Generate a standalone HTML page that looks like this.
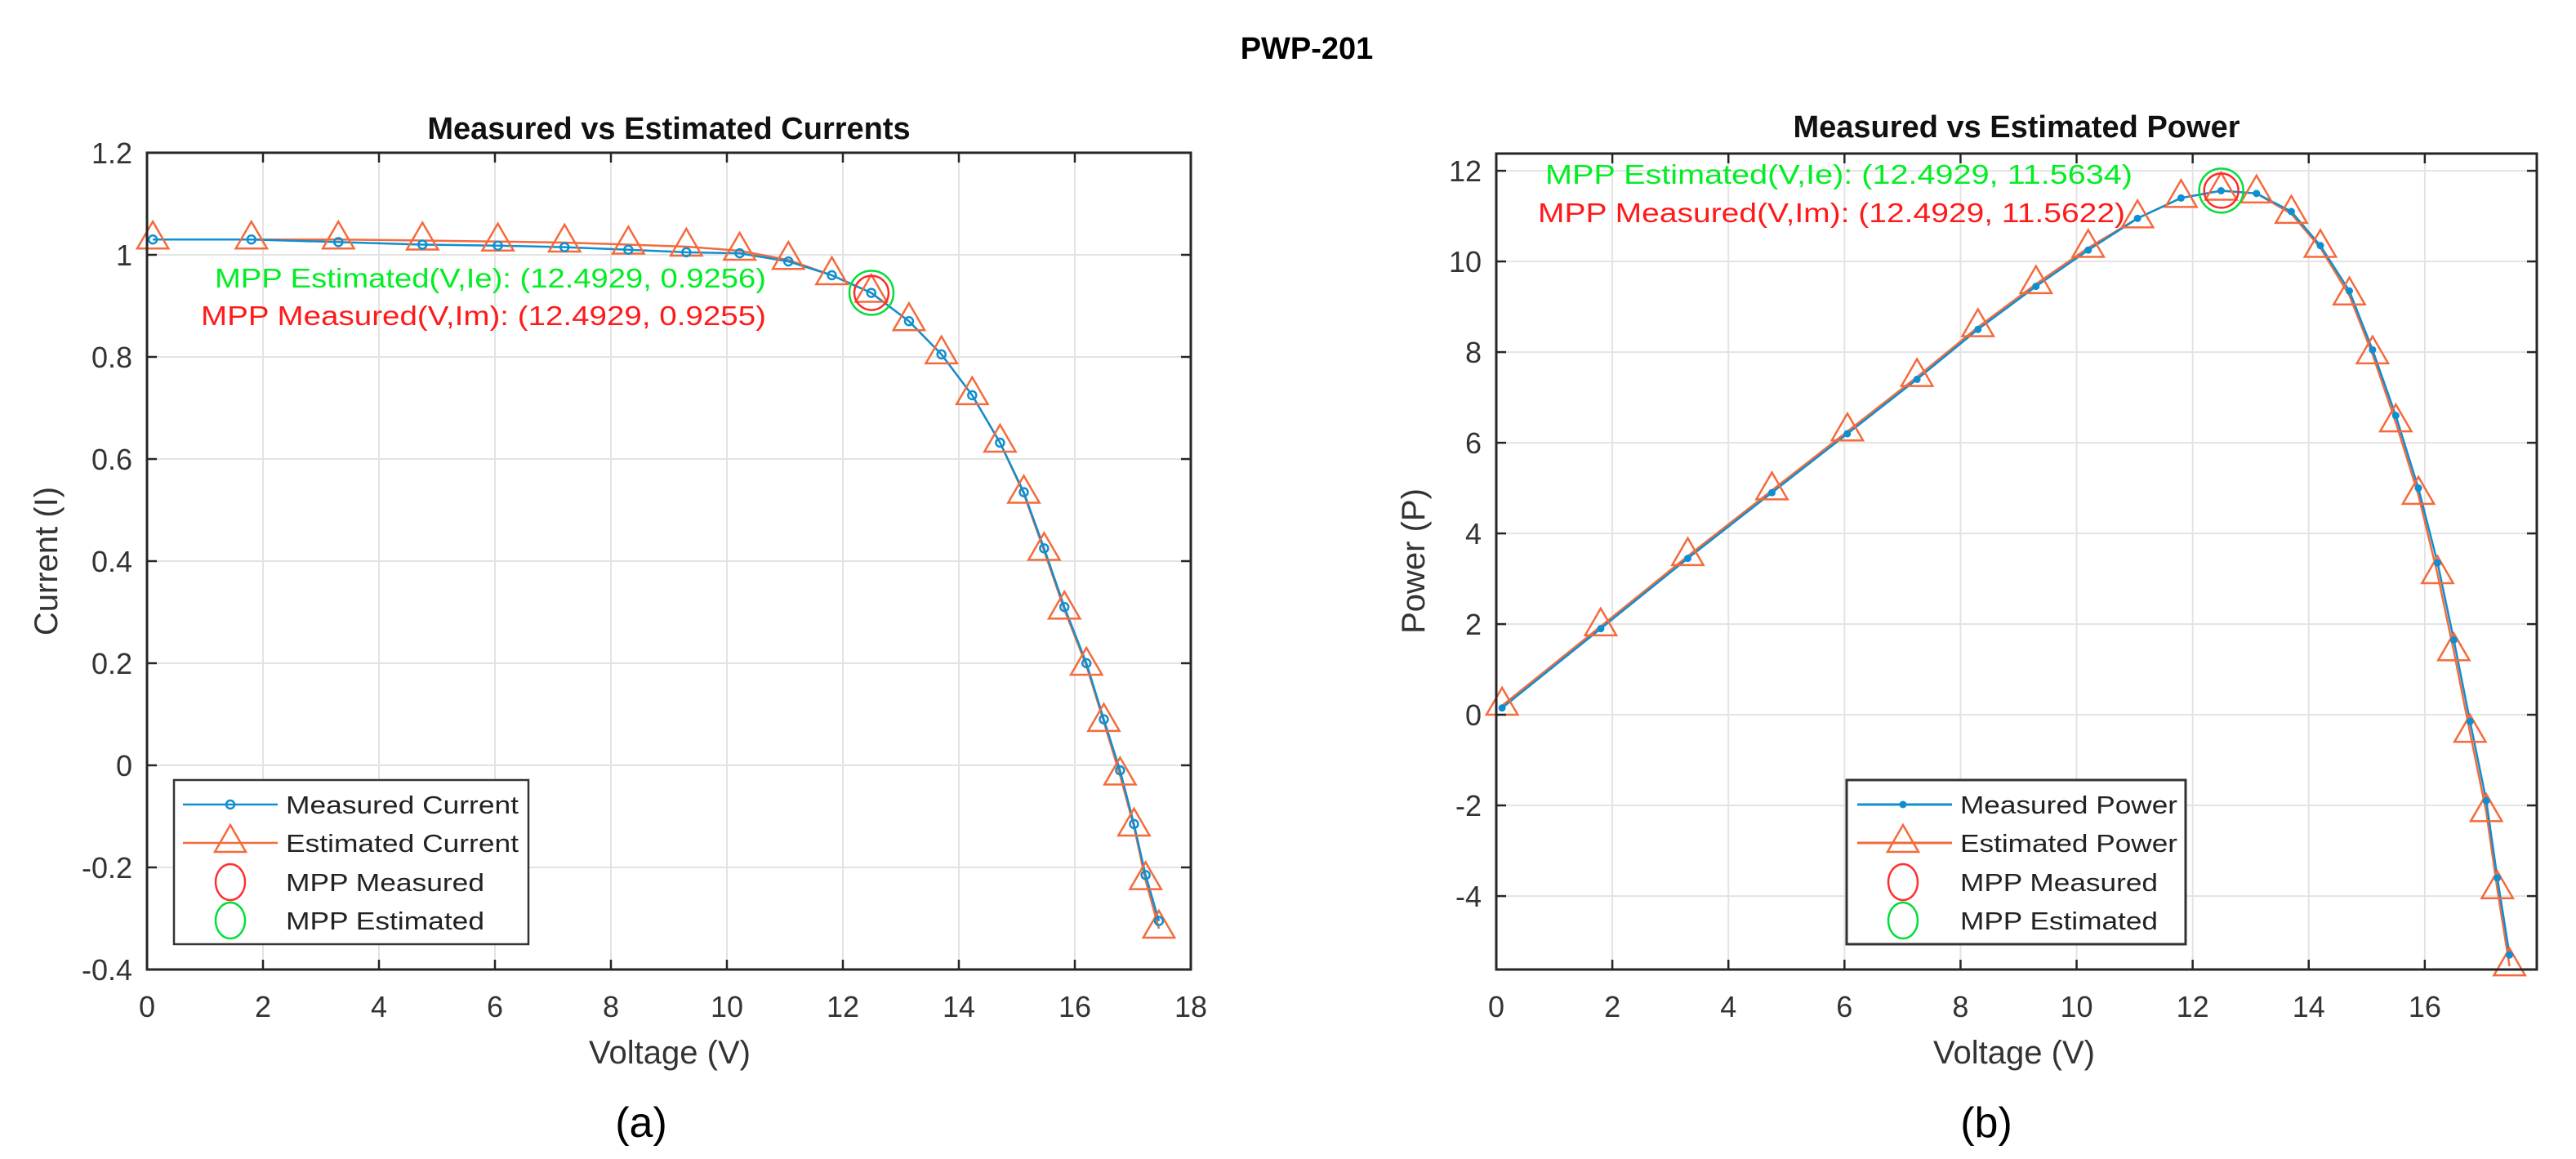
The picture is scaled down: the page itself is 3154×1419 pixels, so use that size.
<!DOCTYPE html>
<html><head><meta charset="utf-8"><style>
html,body{margin:0;padding:0;background:#fff}
svg{display:block;font-family:"Liberation Sans",Arial,sans-serif}
</style></head><body>
<svg id="fig" width="3154" height="1419" viewBox="0 0 3154 1419" xmlns="http://www.w3.org/2000/svg">
<rect width="3154" height="1419" fill="#fff"/>
<text x="1600" y="72" text-anchor="middle" font-size="38" font-weight="bold" fill="#000">PWP-201</text>
<g id="pa"></g>
<g id="pb"></g>
</svg>
<script>
// ---- Panel (a): current data ----
const vMeasA = [0.1,1.8,3.3,4.75,6.05,7.2,8.3,9.3,10.22,11.06,11.81,12.49,13.14,13.7,14.23,14.71,15.12,15.47,15.82,16.2,16.5,16.78,17.02,17.22,17.45];
const iMeas  = [1.03,1.03,1.025,1.02,1.018,1.015,1.01,1.005,1.003,0.987,0.96,0.9255,0.87,0.805,0.725,0.632,0.535,0.425,0.31,0.2,0.09,-0.01,-0.115,-0.215,-0.305];
const iEst   = [1.03,1.03,1.03,1.028,1.026,1.024,1.02,1.016,1.008,0.99,0.96,0.9256,0.87,0.805,0.725,0.632,0.532,0.42,0.305,0.195,0.085,-0.02,-0.12,-0.225,-0.32];
const xTicksA = [0,2,4,6,8,10,12,14,16,18];
const yTicksA = [-0.4,-0.2,0,0.2,0.4,0.6,0.8,1,1.2];
const yTickLabelsA = ["-0.4","-0.2","0","0.2","0.4","0.6","0.8","1","1.2"];
const mppA = [12.4929, 0.9255, 0.9256];
// ---- Panel (b): power data ----
const vMeasB = [0.1,1.8,3.3,4.75,6.05,7.25,8.3,9.3,10.2,11.05,11.8,12.49,13.1,13.7,14.2,14.7,15.1,15.5,15.89,16.22,16.5,16.78,17.06,17.25,17.46];
const pMeas  = [0.15,1.9,3.45,4.9,6.2,7.4,8.5,9.45,10.25,10.95,11.4,11.56,11.5,11.1,10.35,9.35,8.05,6.6,5.0,3.35,1.65,-0.15,-1.9,-3.6,-5.3];
const pEst   = [0.2,1.95,3.5,4.95,6.25,7.45,8.55,9.5,10.3,10.95,11.4,11.56,11.5,11.05,10.3,9.25,7.95,6.45,4.85,3.1,1.4,-0.4,-2.15,-3.85,-5.55];
const xTicksB = [0,2,4,6,8,10,12,14,16];
const yTicksB = [-4,-2,0,2,4,6,8,10,12];
const mppB = [12.4929, 11.5622, 11.5634];

const NS="http://www.w3.org/2000/svg";
function mk(parent,tag,attrs,text){const e=document.createElementNS(NS,tag);for(const k in attrs)e.setAttribute(k,attrs[k]);if(text!==undefined)e.textContent=text;parent.appendChild(e);return e;}
const BLUE="#0f8fd0", ORANGE="#f46a3c", AX="#262626";

function panel(g,cfg){
  const sx=v=>cfg.L+(v-cfg.x0)/(cfg.x1-cfg.x0)*(cfg.R-cfg.L);
  const sy=v=>cfg.B-(v-cfg.y0)/(cfg.y1-cfg.y0)*(cfg.B-cfg.T);
  // grid
  cfg.xt.forEach(t=>{const x=sx(t);
    let l=mk(g,'line',{x1:x,x2:x,y1:cfg.T,y2:cfg.B,stroke:'#e3e3e3','stroke-width':2});
    });
  cfg.yt.forEach(t=>{const y=sy(t);
    let l=mk(g,'line',{x1:cfg.L,x2:cfg.R,y1:y,y2:y,stroke:'#e3e3e3','stroke-width':2});
    });
  // series lines
  const pts=(xs,ys)=>xs.map((x,i)=>sx(x).toFixed(1)+','+sy(ys[i]).toFixed(1)).join(' ');
  let le=mk(g,'polyline',{points:pts(cfg.vx,cfg.est),fill:'none',stroke:ORANGE,'stroke-width':2.5});
  
  let lm=mk(g,'polyline',{points:pts(cfg.vx,cfg.meas),fill:'none',stroke:BLUE,'stroke-width':2.5});
  
  cfg.vx.forEach((v,i)=>{
    const x=sx(v),y=sy(cfg.est[i]),r=22;
    let t=mk(g,'polygon',{points:`${x},${y-r} ${x-r*0.87},${y+r/2} ${x+r*0.87},${y+r/2}`,fill:'none',stroke:ORANGE,'stroke-width':2.5});
    
  });
  cfg.vx.forEach((v,i)=>{
    const x=sx(v),y=sy(cfg.meas[i]);
    let c=cfg.dot?mk(g,'circle',{cx:x,cy:y,r:4.5,fill:BLUE}):mk(g,'circle',{cx:x,cy:y,r:5,fill:'none',stroke:BLUE,'stroke-width':2.5});
    
  });
  // MPP circles
  let cr=mk(g,'circle',{cx:sx(cfg.mpp[0]),cy:sy(cfg.mpp[1]),r:21,fill:'none',stroke:'#ff2a2a','stroke-width':2.5});
  
  let cg=mk(g,'circle',{cx:sx(cfg.mpp[0]),cy:sy(cfg.mpp[2]),r:27,fill:'none',stroke:'#00e03a','stroke-width':2.5});
  
  // box and ticks
  let bx=mk(g,'rect',{x:cfg.L,y:cfg.T,width:cfg.R-cfg.L,height:cfg.B-cfg.T,fill:'none',stroke:AX,'stroke-width':3});
  
  cfg.xt.forEach(t=>{const x=sx(t);
    mk(g,'line',{x1:x,x2:x,y1:cfg.B,y2:cfg.B-12,stroke:AX,'stroke-width':2.5});
    mk(g,'line',{x1:x,x2:x,y1:cfg.T,y2:cfg.T+12,stroke:AX,'stroke-width':2.5});
    let tl=mk(g,'text',{x:x,y:cfg.B+58,'text-anchor':'middle','font-size':36,fill:'#333'},String(t));
    });
  cfg.yt.forEach((t,i)=>{const y=sy(t);
    mk(g,'line',{x1:cfg.L,x2:cfg.L+12,y1:y,y2:y,stroke:AX,'stroke-width':2.5});
    mk(g,'line',{x1:cfg.R,x2:cfg.R-12,y1:y,y2:y,stroke:AX,'stroke-width':2.5});
    let tl=mk(g,'text',{x:cfg.L-18,y:y+13,'text-anchor':'end','font-size':36,fill:'#333'},cfg.ytl[i]);
    });
}

panel(document.getElementById('pa'),{L:180,R:1458,T:187,B:1187,x0:0,x1:18,y0:-0.4,y1:1.2,xt:xTicksA,yt:yTicksA,ytl:yTickLabelsA,vx:vMeasA,meas:iMeas,est:iEst,mpp:mppA,dot:false});
panel(document.getElementById('pb'),{L:1832,R:3106,T:188,B:1187,x0:0,x1:17.93,y0:-5.62,y1:12.38,xt:xTicksB,yt:yTicksB,ytl:yTicksB.map(String),vx:vMeasB,meas:pMeas,est:pEst,mpp:mppB,dot:true});
</script>
<svg width="0" height="0" style="position:absolute"></svg>
<script>
(function(){
const svg=document.getElementById('fig');
svg.insertAdjacentHTML('beforeend',`
<text x="819" y="170" text-anchor="middle" font-size="38" font-weight="bold" fill="#111">Measured vs Estimated Currents</text>
<text x="2469" y="168" text-anchor="middle" font-size="38" font-weight="bold" fill="#111">Measured vs Estimated Power</text>
<text x="263" y="352" font-size="33" fill="#00ee22" textLength="675" lengthAdjust="spacingAndGlyphs">MPP Estimated(V,Ie): (12.4929, 0.9256)</text>
<text x="246" y="398" font-size="33" fill="#ff1a1a" textLength="692" lengthAdjust="spacingAndGlyphs">MPP Measured(V,Im): (12.4929, 0.9255)</text>
<text x="1892" y="225" font-size="33" fill="#00ee22" textLength="719" lengthAdjust="spacingAndGlyphs">MPP Estimated(V,Ie): (12.4929, 11.5634)</text>
<text x="1883" y="272" font-size="33" fill="#ff1a1a" textLength="719" lengthAdjust="spacingAndGlyphs">MPP Measured(V,Im): (12.4929, 11.5622)</text>
<text x="820" y="1302" text-anchor="middle" font-size="40" fill="#333">Voltage (V)</text>
<text x="2466" y="1302" text-anchor="middle" font-size="40" fill="#333">Voltage (V)</text>
<text transform="translate(70,687) rotate(-90)" text-anchor="middle" font-size="40" fill="#333">Current (I)</text>
<text transform="translate(1744,687) rotate(-90)" text-anchor="middle" font-size="40" fill="#333">Power (P)</text>
<text x="785" y="1392" text-anchor="middle" font-size="52" fill="#000">(a)</text>
<text x="2432" y="1392" text-anchor="middle" font-size="52" fill="#000">(b)</text>
<g>
<rect x="213" y="955" width="434" height="201" fill="#fff" stroke="#333" stroke-width="2.5"/>
<line x1="224" x2="340" y1="985" y2="985" stroke="#0f8fd0" stroke-width="2.5"/><circle cx="282" cy="985" r="5" fill="none" stroke="#0f8fd0" stroke-width="2.5"/>
<text x="350" y="996" font-size="31" fill="#222" textLength="285" lengthAdjust="spacingAndGlyphs">Measured Current</text>
<line x1="224" x2="340" y1="1032" y2="1032" stroke="#f46a3c" stroke-width="2.5"/><polygon points="282,1010 263,1043 301,1043" fill="none" stroke="#f46a3c" stroke-width="2.5"/>
<text x="350" y="1043" font-size="31" fill="#222" textLength="285" lengthAdjust="spacingAndGlyphs">Estimated Current</text>
<ellipse cx="282" cy="1080" rx="18" ry="22" fill="none" stroke="#ff3030" stroke-width="2.5"/>
<text x="350" y="1091" font-size="31" fill="#222" textLength="243" lengthAdjust="spacingAndGlyphs">MPP Measured</text>
<ellipse cx="282" cy="1127" rx="18" ry="22" fill="none" stroke="#00e03a" stroke-width="2.5"/>
<text x="350" y="1138" font-size="31" fill="#222" textLength="243" lengthAdjust="spacingAndGlyphs">MPP Estimated</text>
</g>
<g>
<rect x="2261" y="955" width="415" height="201" fill="#fff" stroke="#333" stroke-width="3"/>
<line x1="2274" x2="2390" y1="985" y2="985" stroke="#0f8fd0" stroke-width="3"/><circle cx="2330" cy="985" r="4.5" fill="#0f8fd0"/>
<text x="2400" y="996" font-size="31" fill="#222" textLength="266" lengthAdjust="spacingAndGlyphs">Measured Power</text>
<line x1="2274" x2="2390" y1="1032" y2="1032" stroke="#f46a3c" stroke-width="3"/><polygon points="2330,1010 2311,1043 2349,1043" fill="none" stroke="#f46a3c" stroke-width="2.5"/>
<text x="2400" y="1043" font-size="31" fill="#222" textLength="266" lengthAdjust="spacingAndGlyphs">Estimated Power</text>
<ellipse cx="2330" cy="1080" rx="18" ry="22" fill="none" stroke="#ff3030" stroke-width="2.5"/>
<text x="2400" y="1091" font-size="31" fill="#222" textLength="242" lengthAdjust="spacingAndGlyphs">MPP Measured</text>
<ellipse cx="2330" cy="1127" rx="18" ry="22" fill="none" stroke="#00e03a" stroke-width="2.5"/>
<text x="2400" y="1138" font-size="31" fill="#222" textLength="242" lengthAdjust="spacingAndGlyphs">MPP Estimated</text>
</g>`);
})();
</script>
</body></html>
